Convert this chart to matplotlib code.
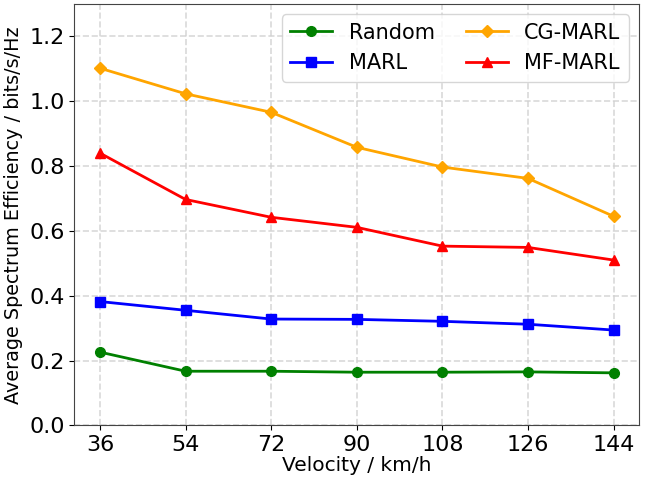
import matplotlib
matplotlib.use("Agg")
import matplotlib.pyplot as plt

velocity = [36, 54, 72, 90, 108, 126, 144]
random_se = [0.226, 0.167, 0.167, 0.164, 0.164, 0.165, 0.162]
marl_se = [0.382, 0.355, 0.328, 0.327, 0.321, 0.312, 0.294]
cg_marl_se = [1.102, 1.023, 0.966, 0.858, 0.797, 0.762, 0.645]
mf_marl_se = [0.840, 0.697, 0.642, 0.611, 0.553, 0.549, 0.510]


def main():
    fig, ax = plt.subplots(figsize=(6.55, 4.79), dpi=100)
    fig.subplots_adjust(left=0.1134, right=0.976, bottom=0.112, top=0.9916)

    ax.plot(velocity, random_se, color="green", marker="o", lw=2, ms=7, label="Random")
    ax.plot(velocity, marl_se, color="blue", marker="s", lw=2, ms=7, label="MARL")
    ax.plot(velocity, cg_marl_se, color="orange", marker="D", lw=2, ms=6.5, label="CG-MARL")
    ax.plot(velocity, mf_marl_se, color="red", marker="^", lw=2, ms=7.5, label="MF-MARL")

    ax.set_xticks(velocity)
    ax.set_ylim(0, 1.3)
    ax.set_yticks([0.0, 0.2, 0.4, 0.6, 0.8, 1.0, 1.2])
    ax.tick_params(labelsize=16)
    ax.set_xlabel("Velocity / km/h", fontsize=14.5, labelpad=1)
    ax.set_ylabel("Average Spectrum Efficiency / bits/s/Hz", fontsize=13.8)
    ax.grid(True, linestyle="--", color="#d0d0d0", lw=1.2, alpha=0.8)
    for s in ax.spines.values():
        s.set_color("#444444")
    ax.legend(ncol=2, fontsize=15, loc="upper right", columnspacing=1.5)

    fig.savefig("out.png")


if __name__ == "__main__":
    main()
